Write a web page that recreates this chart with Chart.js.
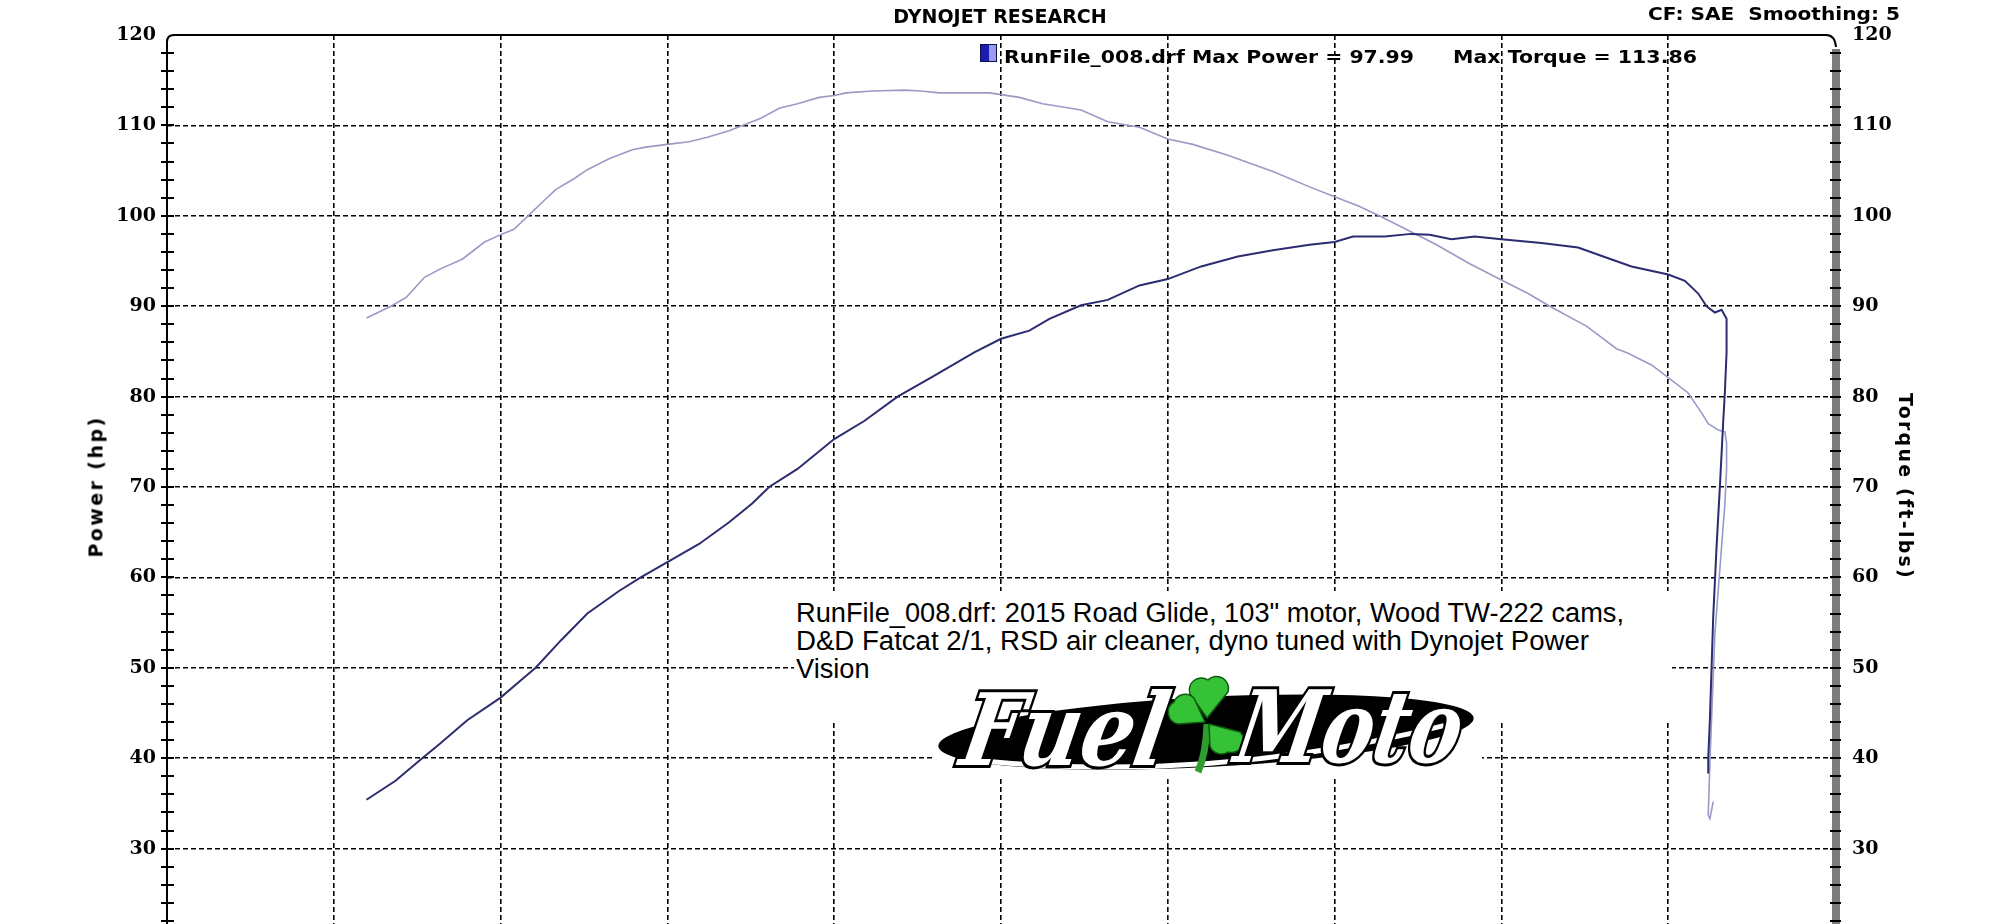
<!DOCTYPE html>
<html>
<head>
<meta charset="utf-8">
<script src="https://cdn.jsdelivr.net/npm/chart.js@4.4.1/dist/chart.umd.min.js"></script>
<style>
html,body{margin:0;padding:0;background:#fff;overflow:hidden;width:2000px;height:924px;}
#wrap{position:relative;width:2000px;height:980px;}
#c{position:absolute;left:0;top:0;}
.t{position:absolute;white-space:pre;line-height:1;transform-origin:0 50%;display:inline-block;color:#000;}
.b{font-family:'DejaVu Sans',sans-serif;font-weight:bold;}
.note{font-family:'Liberation Sans Narrow','Liberation Sans',Arial,sans-serif;font-size:27px;}
#noteBox{position:absolute;left:794px;top:591px;width:878px;height:129px;background:#fff;}
#logoBox{position:absolute;left:934px;top:672px;width:548px;height:106px;background:#fff;}
#marker{position:absolute;left:980px;top:44px;width:15px;height:16px;border:1px solid #10104a;
  background:linear-gradient(90deg,#1c1cb0 0 55%,#9a9af2 55% 100%);}
.axisTitle{position:absolute;white-space:pre;line-height:1;font-family:'DejaVu Sans',sans-serif;font-weight:bold;font-size:19px;color:#000;}
</style>
</head>
<body>
<div id="wrap">
  <canvas id="c" width="2000" height="980"></canvas>
  <span id="cf" class="t b" style="font-size:18px;"></span>
  <div id="marker"></div>
  <span id="leg1" class="t b" style="font-size:18px;"></span>
  <span id="leg2" class="t b" style="font-size:18px;"></span>
  <div id="noteBox"></div>
  <span id="note1" class="t note"></span>
  <span id="note2" class="t note"></span>
  <span id="note3" class="t note"></span>
  <div id="logoBox">
    <svg width="548" height="106" viewBox="0 0 548 106">
      <g transform="rotate(-3 274 60)">
        <ellipse cx="272" cy="60" rx="268" ry="35" fill="#000"/>
        <path d="M 40 76 Q 272 112 510 66" stroke="#fff" stroke-width="5" fill="none"/>
      </g>
      <text x="26" y="93" textLength="204" lengthAdjust="spacingAndGlyphs" font-family="DejaVu Serif" font-style="italic" font-weight="bold" font-size="100" fill="#fff" stroke="#000" stroke-width="6" paint-order="stroke" transform="skewX(-10) translate(14 0)">Fuel</text>
      <g stroke="#0d5c0d" stroke-width="1.5" fill="#36c236" stroke-linejoin="round">
        <path d="M 273 52 Q 272 82 264 100" stroke="#2e9e2e" stroke-width="7" fill="none"/>
        <path d="M 273 46 L 256 22 A 12 12 0 0 1 274 8 A 12 12 0 0 1 294 20 Z"/>
        <path d="M 271 50 L 244 52 A 12 12 0 0 1 240 30 A 12 12 0 0 1 260 26 Z"/>
        <path d="M 275 52 L 306 60 A 12 12 0 0 1 294 80 A 12 12 0 0 1 276 74 Z"/>
      </g>
      <text x="300" y="90" textLength="224" lengthAdjust="spacingAndGlyphs" font-family="DejaVu Serif" font-style="italic" font-weight="bold" font-size="100" fill="#fff" stroke="#000" stroke-width="6" paint-order="stroke" transform="skewX(-10) translate(14 0)">Moto</text>
    </svg>
  </div>
  <span id="yTitleL" class="axisTitle"></span>
  <span id="yTitleR" class="axisTitle"></span>
</div>
<script>
// ---------- data read from the dyno sheet ----------
const powerRpm = [2098,2185,2265,2318,2400,2500,2560,2605,2680,2760,2855,2920,3000,3095,3185,3255,3305,3390,3500,3590,3690,3790,3920,4000,4085,4145,4240,4320,4415,4500,4600,4710,4815,4925,5000,5055,5150,5230,5285,5350,5420,5500,5620,5730,5820,5890,6000,6050,6090,6115,6140,6160,6175,6175,6170,6165,6155,6145,6135,6130,6125,6120,6120];
const powerHp = [35.4,37.5,40.0,41.6,44.2,46.7,48.6,50.0,53.0,56.0,58.5,60.0,61.7,63.7,66.1,68.2,70.0,72.0,75.3,77.3,80.0,82.1,84.9,86.4,87.3,88.6,90.1,90.7,92.3,93.0,94.4,95.5,96.2,96.8,97.1,97.7,97.7,98.0,97.9,97.4,97.7,97.4,97.0,96.5,95.3,94.4,93.5,92.8,91.4,90.0,89.3,89.6,88.6,84.9,80.6,77.3,70.1,63.4,55.7,50.0,44.3,40.0,38.3];
const torqueRpm = [2098,2171,2218,2272,2318,2385,2452,2505,2540,2580,2625,2665,2720,2760,2825,2895,2935,3000,3065,3120,3185,3225,3280,3335,3390,3455,3500,3535,3615,3710,3760,3815,3965,4000,4055,4125,4240,4320,4415,4500,4575,4680,4815,4925,5000,5070,5140,5220,5300,5405,5500,5580,5645,5755,5845,5880,5950,6000,6060,6100,6120,6150,6170,6175,6175,6170,6160,6150,6140,6135,6130,6125,6120,6125,6135];
const torqueFtLbs = [88.7,90.0,91.0,93.2,94.1,95.2,97.1,98.0,98.5,99.9,101.5,102.9,104.1,105.1,106.3,107.3,107.6,107.9,108.2,108.7,109.4,110.0,110.8,111.9,112.4,113.1,113.3,113.6,113.8,113.9,113.8,113.6,113.6,113.4,113.1,112.4,111.7,110.4,109.8,108.5,107.9,106.7,104.9,103.2,102.1,101.1,99.9,98.4,96.9,94.7,92.9,91.4,90.0,87.8,85.3,84.8,83.5,82.1,80.4,78.2,77.0,76.3,76.1,74.9,72.0,68.2,63.4,58.6,53.8,49.0,44.3,39.5,33.7,33.3,35.2];
const rpmRange = [1500, 6500];
const rpmStep = 500;
const valueRange = [20, 120];
const labelledTicks = [30,40,50,60,70,80,90,100,110,120];

const chartTitle = 'DYNOJET RESEARCH';
const headerText = 'CF: SAE  Smoothing: 5';
const legendPower = 'RunFile_008.drf Max Power = 97.99';
const legendTorque = 'Max Torque = 113.86';
const noteLines = ['RunFile_008.drf: 2015 Road Glide, 103" motor, Wood TW-222 cams,',
                   'D&D Fatcat 2/1, RSD air cleaner, dyno tuned with Dynojet Power',
                   'Vision'];
const leftTitle = 'Power (hp)';
const rightTitle = 'Torque (ft-lbs)';

// ---------- layout ----------
const AREA_LEFT = 167, AREA_RIGHT = 1835, AREA_BOTTOM = 939, CANVAS_W = 2000, CANVAS_H = 980;
const DASH = [5,3];
const CLEAR = 'rgba(0,0,0,0)';

const frame = {
  id: 'frame',
  beforeDatasetsDraw(chart) {
    const {ctx, chartArea: a, scales} = chart;
    ctx.save();
    ctx.setLineDash([]);
    ctx.strokeStyle = '#000';
    ctx.lineWidth = 2;
    ctx.beginPath();
    ctx.moveTo(a.left, a.bottom + 40);
    ctx.lineTo(a.left, a.top + 7);
    ctx.quadraticCurveTo(a.left, a.top, a.left + 7, a.top);
    ctx.lineTo(a.right - 9, a.top);
    ctx.quadraticCurveTo(a.right, a.top, a.right + 1, a.top + 12);
    ctx.stroke();
    ctx.fillStyle = '#7c7c7c';
    ctx.fillRect(a.right - 3, a.top + 14, 8, a.bottom - a.top);
    ctx.lineWidth = 2;
    ctx.beginPath();
    scales.yP.ticks.forEach(t => {
      if (t.value >= valueRange[1]) return;
      const y = Math.round(scales.yP.getPixelForValue(t.value));
      ctx.moveTo(a.left - 6, y); ctx.lineTo(a.left + 7, y);
    });
    scales.yT.ticks.forEach(t => {
      if (t.value >= valueRange[1]) return;
      const y = Math.round(scales.yT.getPixelForValue(t.value));
      ctx.moveTo(a.right - 5, y); ctx.lineTo(a.right + 6, y);
    });
    ctx.stroke();
    ctx.restore();
  }
};

const tickFont = {family: 'DejaVu Serif', size: 19, weight: 'bold'};
const labelCb = v => labelledTicks.includes(v) ? String(v) : '';

new Chart(document.getElementById('c'), {
  type: 'line',
  data: {
    datasets: [
      {label: 'Power (hp)', data: powerRpm.map((x, i) => ({x, y: powerHp[i]})), yAxisID: 'yP',
       borderColor: '#2c2c70', borderWidth: 2, pointRadius: 0, tension: 0, fill: false},
      {label: 'Torque (ft-lbs)', data: torqueRpm.map((x, i) => ({x, y: torqueFtLbs[i]})), yAxisID: 'yT',
       borderColor: '#9a9ac6', borderWidth: 1.6, pointRadius: 0, tension: 0, fill: false}
    ]
  },
  options: {
    responsive: false, animation: false, devicePixelRatio: 1,
    layout: {padding: 0},
    plugins: {
      legend: {display: false},
      tooltip: {enabled: false},
      title: {display: true, text: chartTitle, color: '#000',
              font: {family: 'DejaVu Sans', size: 19, weight: 'bold', lineHeight: 1.2},
              padding: {top: 6.9, bottom: 5.3}}
    },
    scales: {
      x: {type: 'linear', min: rpmRange[0], max: rpmRange[1],
          ticks: {stepSize: rpmStep, display: false},
          grid: {color: c => (c.tick && c.tick.value > rpmRange[0] && c.tick.value < rpmRange[1]) ? '#000' : CLEAR,
                 lineWidth: 1.6, drawTicks: false},
          border: {display: false, dash: DASH},
          afterFit: s => { s.height = CANVAS_H - AREA_BOTTOM; }},
      yP: {position: 'left', min: valueRange[0], max: valueRange[1],
           ticks: {stepSize: 2, autoSkip: false, callback: labelCb, color: '#000', font: tickFont, padding: 11},
           grid: {color: c => (c.tick && c.tick.value % 10 === 0 && c.tick.value > valueRange[0] && c.tick.value < valueRange[1]) ? '#000' : CLEAR,
                  lineWidth: 1.6, drawTicks: false},
           border: {display: false, dash: DASH},
           afterFit: s => { s.width = AREA_LEFT; }},
      yT: {position: 'right', min: valueRange[0], max: valueRange[1],
           ticks: {stepSize: 2, autoSkip: false, callback: labelCb, color: '#000', font: tickFont, padding: 17},
           grid: {drawOnChartArea: false, drawTicks: false},
           border: {display: false},
           afterFit: s => { s.width = CANVAS_W - AREA_RIGHT; }}
    }
  },
  plugins: [frame]
});

// ---------- text overlays ----------
function place(id, text, left, capCenter, width) {
  const el = document.getElementById(id);
  el.textContent = text;
  const size = parseFloat(getComputedStyle(el).fontSize);
  el.style.left = left + 'px';
  el.style.top = (capCenter - 0.485 * size) + 'px';
  let s = 1;
  if (width) {
    const w = el.getBoundingClientRect().width;
    s = width / w;
    el.style.transform = 'scaleX(' + s + ')';
  }
  return s;
}
place('cf', headerText, 1648, 13.5, 252);
place('leg1', legendPower, 1004, 56.5, 410);
place('leg2', legendTorque, 1453, 56.5, 244);
const s1 = place('note1', noteLines[0], 796, 613, 828);
place('note2', noteLines[1], 796, 641, 793);
const n3 = document.getElementById('note3');
place('note3', noteLines[2], 796, 669);
n3.style.transform = 'scaleX(' + s1 + ')';

function axisTitle(id, text, cx, cy, length, angle) {
  const el = document.getElementById(id);
  el.textContent = text;
  const w = el.getBoundingClientRect().width;
  el.style.letterSpacing = ((length - w) / text.length) + 'px';
  const w2 = el.getBoundingClientRect().width;
  const h = el.getBoundingClientRect().height;
  el.style.left = (cx - w2 / 2) + 'px';
  el.style.top = (cy - h / 2) + 'px';
  el.style.transform = 'rotate(' + angle + 'deg)';
  el.style.transformOrigin = '50% 50%';
}
axisTitle('yTitleL', leftTitle, 96, 486, 142, -90);
axisTitle('yTitleR', rightTitle, 1905, 486, 187, 90);
</script>
</body>
</html>
